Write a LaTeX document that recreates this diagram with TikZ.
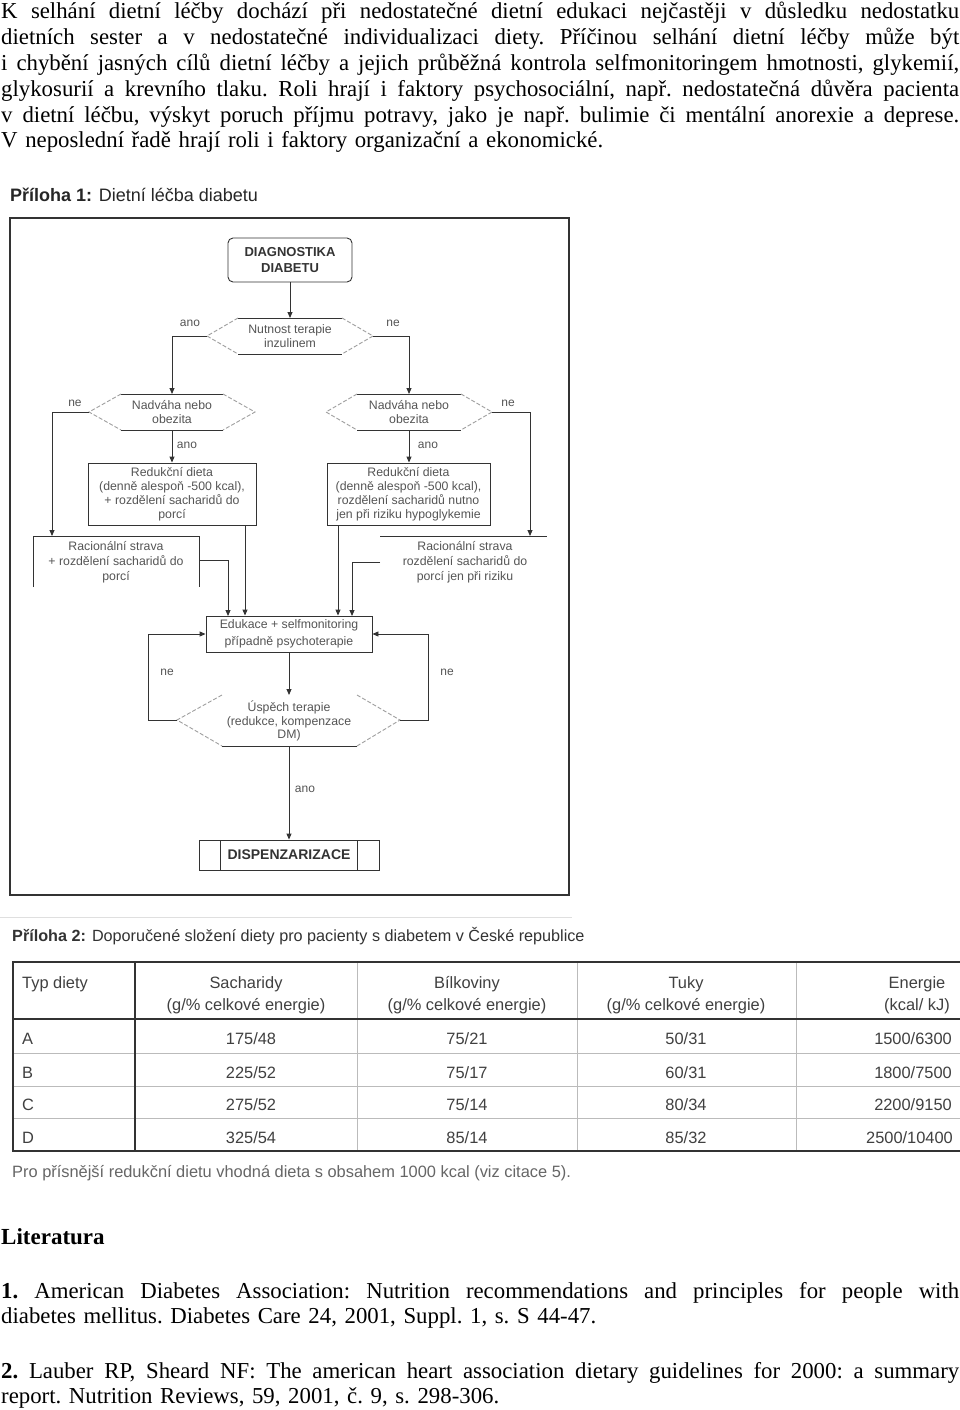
\documentclass[tikz,border=0pt]{standalone}
\usepackage{fontspec}
\setmainfont{Liberation Serif}
\newfontfamily\arial{Liberation Sans}
\usetikzlibrary{arrows.meta}
\definecolor{ln}{HTML}{333333}
\definecolor{txt}{HTML}{555555}
\definecolor{tbl}{HTML}{404040}
\definecolor{grid}{HTML}{BBBBBB}
\newcommand\fcfont{\arial\fontsize{12.3}{14}\selectfont}
\tikzset{
  arr/.style={ln, line width=0.9pt, -{Triangle[length=6pt,width=5pt]}},
  con/.style={ln, line width=0.9pt},
  fbox/.style={draw=ln, line width=0.9pt, inner sep=0pt, align=center, font=\fcfont, text=txt},
  ftxt/.style={inner sep=0pt, align=center, font=\arial\fontsize{12.3}{13.5}\selectfont, text=txt},
  rtxt/.style={inner sep=0pt, align=center, font=\arial\fontsize{12.3}{15}\selectfont, text=txt},
  lbl/.style={inner sep=0pt, font=\arial\fontsize{12}{13}\selectfont, text=txt},
  hexh/.style={ln, line width=0.9pt},
  hexd/.style={gray!75, line width=0.9pt, dash pattern=on 4pt off 2pt},
  ttl/.style={inner sep=0pt, anchor=base west, text=black!85},
  thd/.style={inner sep=0pt, anchor=base, font=\arial\fontsize{16.4}{20}\selectfont, text=tbl},
  tleft/.style={inner sep=0pt, anchor=base west, font=\arial\fontsize{16.4}{20}\selectfont, text=tbl},
  thick/.style={ln, line width=1.8pt},
  thin/.style={grid, line width=0.8pt},
}
\newcommand\hexnode[7]{%
  \node[ftxt] (#1) at (#2,#3) {#7};
  \coordinate (#1-W) at ({#2-#4},#3);
  \coordinate (#1-E) at ({#2+#4},#3);
  \coordinate (#1-N) at (#2,{#3-#6});
  \coordinate (#1-S) at (#2,{#3+#6});
  \draw[hexh] ({#2-#5},{#3-#6}) -- ({#2+#5},{#3-#6});
  \draw[hexh] ({#2-#5},{#3+#6}) -- ({#2+#5},{#3+#6});
  \draw[hexd] ({#2-#5},{#3-#6}) -- (#1-W) -- ({#2-#5},{#3+#6});
  \draw[hexd] ({#2+#5},{#3-#6}) -- (#1-E) -- ({#2+#5},{#3+#6});
}
\newcommand\serifsetup{\hsize=958pt\parindent=0pt\fontsize{22.8}{25.8}\selectfont\frenchspacing
  \spaceskip=0.335em plus 0.3em minus 0.205em\relax}
\begin{document}
\begin{tikzpicture}[x=1pt,y=-1pt]
\useasboundingbox (0,0) rectangle (960,1410);
\fill[white] (0,0) rectangle (960,1410);

% ---------- top paragraph ----------
\node[anchor=base west, inner sep=0pt] (para) at (1,19) {\vtop{\serifsetup
\hbox to\hsize{K selhání dietní léčby dochází při nedostatečné dietní edukaci nejčastěji v~důsledku nedostatku}
\hbox to\hsize{dietních sester a v~nedostatečné individualizaci diety. Příčinou selhání dietní léčby může být}
\hbox to\hsize{i chybění jasných cílů dietní léčby a jejich průběžná kontrola selfmonitoringem hmotnosti, glykemií,}
\hbox to\hsize{glykosurií a krevního tlaku. Roli hrají i faktory psychosociální, např. nedostatečná důvěra pacienta}
\hbox to\hsize{v dietní léčbu, výskyt poruch příjmu potravy, jako je např. bulimie či mentální anorexie a deprese.}
\hbox{V neposlední řadě hrají roli i faktory organizační a ekonomické.}}};

% ---------- flowchart ----------
\node[ttl, font=\arial\fontsize{18}{20}\selectfont] (t1) at (10,201) {\textbf{Příloha 1:} Dietní léčba diabetu};
\draw[thick] (10,218) rectangle (569,895);

\node[fbox, minimum width=124pt, minimum height=44pt, rounded corners=5pt,
      font=\arial\bfseries\fontsize{13}{16}\selectfont, text=black!80] (diag) at (290,260) {DIAGNOSTIKA\\DIABETU};

\hexnode{h1}{290}{336}{83}{52}{18}{Nutnost terapie\\inzulinem}
\hexnode{h2}{172}{412}{83}{51}{18}{Nadváha nebo\\obezita}
\hexnode{h3}{409}{412}{83}{52}{18}{Nadváha nebo\\obezita}

\node[fbox, minimum width=168pt, minimum height=62pt] (redl) at (172,494)
  {Redukční dieta\\(denně alespoň -500 kcal),\\+ rozdělení sacharidů do\\porcí};
\node[fbox, minimum width=163pt, minimum height=62pt] (redr) at (408.5,494)
  {Redukční dieta\\(denně alespoň -500 kcal),\\rozdělení sacharidů nutno\\jen při riziku hypoglykemie};

\node[rtxt] (racl) at (116,562) {Racionální strava\\+ rozdělení sacharidů do\\porcí};
\draw[con] (33,587) -- (33,536) -- (199,536) -- (199,587);
\node[rtxt] (racr) at (465,562) {Racionální strava\\rozdělení sacharidů do\\porcí jen při riziku};
\draw[con] (380,536) -- (547,536);

\node[fbox, minimum width=166pt, minimum height=36pt, font=\arial\fontsize{12.3}{17}\selectfont] (edu) at (289,634)
  {Edukace + selfmonitoring\\případně psychoterapie};

% success hexagon (top edge not drawn)
\node[ftxt] (h4) at (289,721) {Úspěch terapie\\(redukce, kompenzace\\DM)};
\coordinate (h4-W) at (177,720);
\coordinate (h4-E) at (400,720);
\coordinate (h4-N) at (289,695);
\coordinate (h4-S) at (289,746);
\draw[hexh] (222,746) -- (357,746);
\draw[hexd] (222,695) -- (h4-W) -- (222,746);
\draw[hexd] (357,695) -- (h4-E) -- (357,746);

\node[fbox, minimum width=180pt, minimum height=30pt, font=\arial\bfseries\fontsize{14}{16}\selectfont, text=black!80] (disp) at (289,855) {DISPENZARIZACE};
\draw[con] (220,840) -- (220,870);
\draw[con] (357,840) -- (357,870);

% connector coordinates
\coordinate (racl-in) at (52,536);
\coordinate (racr-in) at (530,536);
\coordinate (rl-out) at (245,525);
\coordinate (rr-out) at (338,525);
\coordinate (racl-out) at (199,560);
\coordinate (racr-out) at (380,562);
\coordinate (edu-in1) at (228,616);
\coordinate (edu-in4) at (352,616);

\draw[arr] (diag.south) -- (h1-N);
\draw[arr] (h1-W) -| (h2-N);
\draw[arr] (h1-E) -| (h3-N);
\draw[arr] (h2-W) -| (racl-in);
\draw[arr] (h2-S) -- (redl.north);
\draw[arr] (h3-E) -| (racr-in);
\draw[arr] (h3-S) -- (h3-S |- redr.north);
\draw[arr] (rl-out) -- (rl-out |- edu.north);
\draw[arr] (racl-out) -| (edu-in1);
\draw[arr] (rr-out) -- (rr-out |- edu.north);
\draw[arr] (racr-out) -| (edu-in4);
\draw[arr] (edu.south) -- (h4-N);
\draw[arr] (h4-W) -- (148,720) |- (edu.west);
\draw[arr] (h4-E) -- (428,720) |- (edu.east);
\draw[arr] (h4-S) -- (disp.north);

\node[lbl] (l1) at (190,323) {ano};
\node[lbl] (l2) at (393,323) {ne};
\node[lbl] (l3) at (75,403) {ne};
\node[lbl] (l4) at (187,445) {ano};
\node[lbl] (l5) at (508,403) {ne};
\node[lbl] (l6) at (428,445) {ano};
\node[lbl] (l7) at (167,672) {ne};
\node[lbl] (l8) at (447,672) {ne};
\node[lbl] (l9) at (305,789) {ano};

% ---------- table ----------
\draw[gray!25, line width=0.8pt] (0,917) -- (572,917);
\node[ttl, font=\arial\fontsize{16.2}{18}\selectfont, text=black!80] (t2) at (12,941)
  {\textbf{Příloha 2:} Doporučené složení diety pro pacienty s diabetem v České republice};

\foreach \yy in {1053,1086,1118} \draw[thin] (13,\yy) -- (960,\yy);
\foreach \xx in {357,577,796} \draw[thin] (\xx,962) -- (\xx,1151);
\draw[thick] (12,962) -- (960,962);
\draw[thick] (12,1019) -- (960,1019);
\draw[thick] (12,1151) -- (960,1151);
\draw[thick] (13,962) -- (13,1151);
\draw[thick] (135,962) -- (135,1151);

\node[tleft] (hty) at (22,988) {Typ diety};
\node[thd] (hs1) at (246,988) {Sacharidy};
\node[thd] (hs2) at (246,1010) {(g/\% celkové energie)};
\node[thd] (hb1) at (467,988) {Bílkoviny};
\node[thd] (hb2) at (467,1010) {(g/\% celkové energie)};
\node[thd] (ht1) at (686,988) {Tuky};
\node[thd] (ht2) at (686,1010) {(g/\% celkové energie)};
\node[thd] (he1) at (917,988) {Energie};
\node[thd] (he2) at (917,1010) {(kcal/ kJ)};

\node[tleft] (ra) at (22,1044) {A};
\node[tleft] (rb) at (22,1078) {B};
\node[tleft] (rc) at (22,1110) {C};
\node[tleft] (rd) at (22,1143) {D};

\node[thd] (a1) at (251,1044) {175/48};
\node[thd] (a2) at (467,1044) {75/21};
\node[thd] (a3) at (686,1044) {50/31};
\node[thd] (a4) at (913,1044) {1500/6300};
\node[thd] (b1) at (251,1078) {225/52};
\node[thd] (b2) at (467,1078) {75/17};
\node[thd] (b3) at (686,1078) {60/31};
\node[thd] (b4) at (913,1078) {1800/7500};
\node[thd] (c1) at (251,1110) {275/52};
\node[thd] (c2) at (467,1110) {75/14};
\node[thd] (c3) at (686,1110) {80/34};
\node[thd] (c4) at (913,1110) {2200/9150};
\node[thd] (d1) at (251,1143) {325/54};
\node[thd] (d2) at (467,1143) {85/14};
\node[thd] (d3) at (686,1143) {85/32};
\node[thd, anchor=base west] (d4) at (866,1143) {2500/10400};

\node[ttl, font=\arial\fontsize{16.4}{18}\selectfont, text=black!60] (fn) at (12,1177)
  {Pro přísnější redukční dietu vhodná dieta s obsahem 1000 kcal (viz citace 5).};

% ---------- literature ----------
\node[ttl, font=\fontsize{23}{25}\selectfont\bfseries, text=black] (lit) at (1,1244) {Literatura};
\node[anchor=base west, inner sep=0pt] (ref1) at (1,1298) {\vtop{\serifsetup
\hbox to\hsize{\textbf{1.} American Diabetes Association: Nutrition recommendations and principles for people with}
\hbox{diabetes mellitus. Diabetes Care 24, 2001, Suppl. 1, s. S 44-47.}}};
\node[anchor=base west, inner sep=0pt] (ref2) at (1,1378) {\vtop{\serifsetup
\hbox to\hsize{\textbf{2.} Lauber RP, Sheard NF: The american heart association dietary guidelines for 2000: a summary}
\hbox{report. Nutrition Reviews, 59, 2001, č. 9, s. 298-306.}}};
\end{tikzpicture}
\end{document}
